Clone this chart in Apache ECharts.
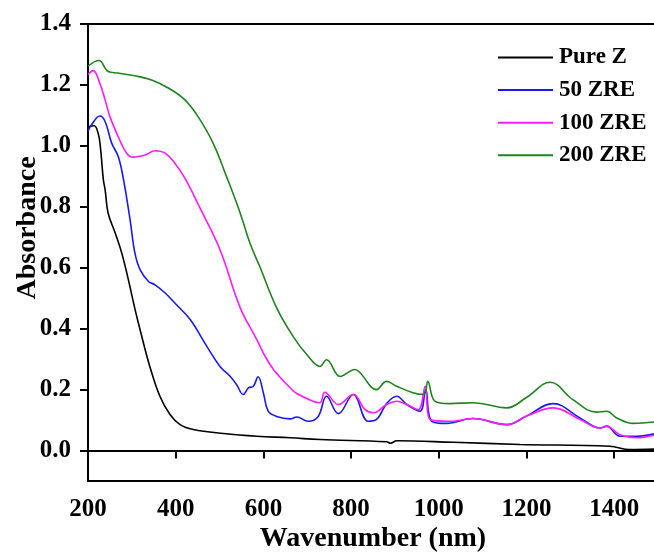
<!DOCTYPE html>
<html>
<head>
<meta charset="utf-8">
<script src="https://cdn.jsdelivr.net/npm/echarts@6/dist/echarts.min.js"></script>
<style>html,body{margin:0;padding:0;background:#fff;}#c{width:654px;height:557px;}</style>
</head>
<body>
<div id="c"></div>
<script>
var seriesNames = ['Pure Z', '50 ZRE', '100 ZRE', '200 ZRE'];

var pureZ_wl = [200, 214, 223, 228, 235, 239, 246, 262, 277, 292, 307, 319, 341, 364, 387, 410, 440, 509, 585, 661, 729, 881, 890, 904, 1033, 1185, 1390, 1436, 1500];
var pureZ_abs = [1.063, 1.066, 1.042, 1.0, 0.889, 0.856, 0.779, 0.714, 0.648, 0.561, 0.465, 0.395, 0.276, 0.178, 0.118, 0.085, 0.069, 0.056, 0.047, 0.042, 0.036, 0.029, 0.024, 0.032, 0.027, 0.020, 0.014, 0.003, 0.005];

var zre50_wl = [200, 208, 227, 239, 254, 269, 281, 296, 307, 319, 338, 353, 376, 398, 433, 471, 501, 524, 539, 554, 566, 577, 588, 600, 611, 630, 661, 676, 702, 725, 744, 771, 805, 839, 858, 881, 904, 927, 957, 970, 984, 1018, 1078, 1155, 1200, 1261, 1322, 1368, 1383, 1413, 1451, 1500];
var zre50_abs = [1.047, 1.069, 1.098, 1.080, 1.009, 0.965, 0.889, 0.757, 0.648, 0.593, 0.555, 0.544, 0.517, 0.484, 0.430, 0.342, 0.276, 0.244, 0.216, 0.184, 0.206, 0.211, 0.242, 0.189, 0.129, 0.112, 0.104, 0.110, 0.096, 0.112, 0.178, 0.121, 0.184, 0.096, 0.102, 0.154, 0.178, 0.151, 0.129, 0.200, 0.096, 0.089, 0.105, 0.085, 0.113, 0.154, 0.107, 0.074, 0.080, 0.047, 0.047, 0.058];

var zre100_wl = [200, 212, 227, 239, 250, 269, 288, 303, 330, 353, 376, 398, 421, 455, 501, 547, 585, 600, 623, 661, 676, 713, 729, 740, 771, 805, 832, 851, 881, 904, 927, 953, 969, 980, 1026, 1078, 1155, 1200, 1261, 1322, 1368, 1383, 1413, 1451, 1500];
var zre100_abs = [1.234, 1.247, 1.205, 1.151, 1.096, 1.030, 0.976, 0.963, 0.970, 0.984, 0.976, 0.943, 0.894, 0.797, 0.659, 0.469, 0.364, 0.320, 0.266, 0.206, 0.187, 0.162, 0.157, 0.191, 0.151, 0.184, 0.134, 0.124, 0.151, 0.162, 0.151, 0.134, 0.211, 0.102, 0.096, 0.105, 0.085, 0.113, 0.140, 0.102, 0.074, 0.079, 0.052, 0.042, 0.054];

var zre200_wl = [200, 225, 246, 268, 307, 345, 383, 421, 451, 485, 516, 547, 569, 592, 630, 668, 699, 729, 744, 775, 809, 820, 858, 881, 904, 941, 966, 975, 991, 1025, 1078, 1155, 1200, 1254, 1306, 1360, 1383, 1406, 1443, 1500];
var zre200_abs = [1.262, 1.280, 1.244, 1.239, 1.230, 1.216, 1.190, 1.151, 1.096, 1.010, 0.899, 0.780, 0.682, 0.603, 0.469, 0.374, 0.315, 0.276, 0.298, 0.243, 0.266, 0.256, 0.200, 0.227, 0.211, 0.190, 0.184, 0.227, 0.162, 0.154, 0.157, 0.140, 0.174, 0.224, 0.167, 0.126, 0.129, 0.107, 0.089, 0.095];

var xTicks = [200, 400, 600, 800, 1000, 1200, 1400];
var yTicks = [0.0, 0.2, 0.4, 0.6, 0.8, 1.0, 1.2, 1.4];

var colors = ['#000000', '#1a1af0', '#ff1aff', '#1e841e'];

function pairs(xs, ys) { return xs.map(function (x, i) { return [x, ys[i]]; }); }
var allX = [pureZ_wl, zre50_wl, zre100_wl, zre200_wl];
var allY = [pureZ_abs, zre50_abs, zre100_abs, zre200_abs];

var FONT = 'Liberation Serif';
var chart = echarts.init(document.getElementById('c'), null, { renderer: 'canvas' });
chart.setOption({
  animation: false,
  backgroundColor: '#ffffff',
  grid: { left: 88, top: 24, right: -4, bottom: 76, containLabel: false, outerBoundsMode: 'none',
    show: true, borderColor: '#000', borderWidth: 2, backgroundColor: 'transparent' },
  legend: {
    orient: 'vertical', left: 498, top: 46, padding: 0,
    icon: 'rect', itemWidth: 55, itemHeight: 2, itemGap: 9.6,
    data: seriesNames,
    textStyle: { fontFamily: FONT, fontWeight: 'bold', fontSize: 23, color: '#000', lineHeight: 23, padding: [0, 0, 0, 1] }
  },
  xAxis: {
    type: 'value', min: 200, max: 1500,
    name: 'Wavenumber (nm)', nameLocation: 'middle', nameGap: 44, nameMoveOverlap: false,
    nameTextStyle: { fontFamily: FONT, fontWeight: 'bold', fontSize: 28, color: '#000' },
    axisLine: { show: true, lineStyle: { color: '#000', width: 2 } },
    axisTick: { show: true, length: 8, lineStyle: { color: '#000', width: 2 }, customValues: xTicks },
    axisLabel: { fontFamily: FONT, fontWeight: 'bold', fontSize: 25, color: '#000', margin: 16, customValues: xTicks,
      formatter: function (v) { return String(v); } },
    splitLine: { show: false }
  },
  yAxis: {
    type: 'value', min: -0.1, max: 1.4,
    name: 'Absorbance', nameLocation: 'middle', nameGap: 46, nameRotate: 90, nameMoveOverlap: false,
    nameTextStyle: { fontFamily: FONT, fontWeight: 'bold', fontSize: 28, color: '#000', padding: [0, 0, 0, 49] },
    axisLine: { show: true, lineStyle: { color: '#000', width: 2 } },
    axisTick: { show: true, length: 8, lineStyle: { color: '#000', width: 2 }, customValues: yTicks },
    axisLabel: { fontFamily: FONT, fontWeight: 'bold', fontSize: 25, color: '#000', margin: 17, customValues: yTicks,
      formatter: function (v) { return v.toFixed(1); } },
    splitLine: { show: false }
  },
  series: seriesNames.map(function (n, i) {
    return {
      name: n, type: 'line', symbol: 'none', showSymbol: false, smooth: 0.4,
      clip: true,
      lineStyle: { color: colors[i], width: 1.6 },
      itemStyle: { color: colors[i] },
      data: pairs(allX[i], allY[i])
    };
  })
});
</script>
</body>
</html>
